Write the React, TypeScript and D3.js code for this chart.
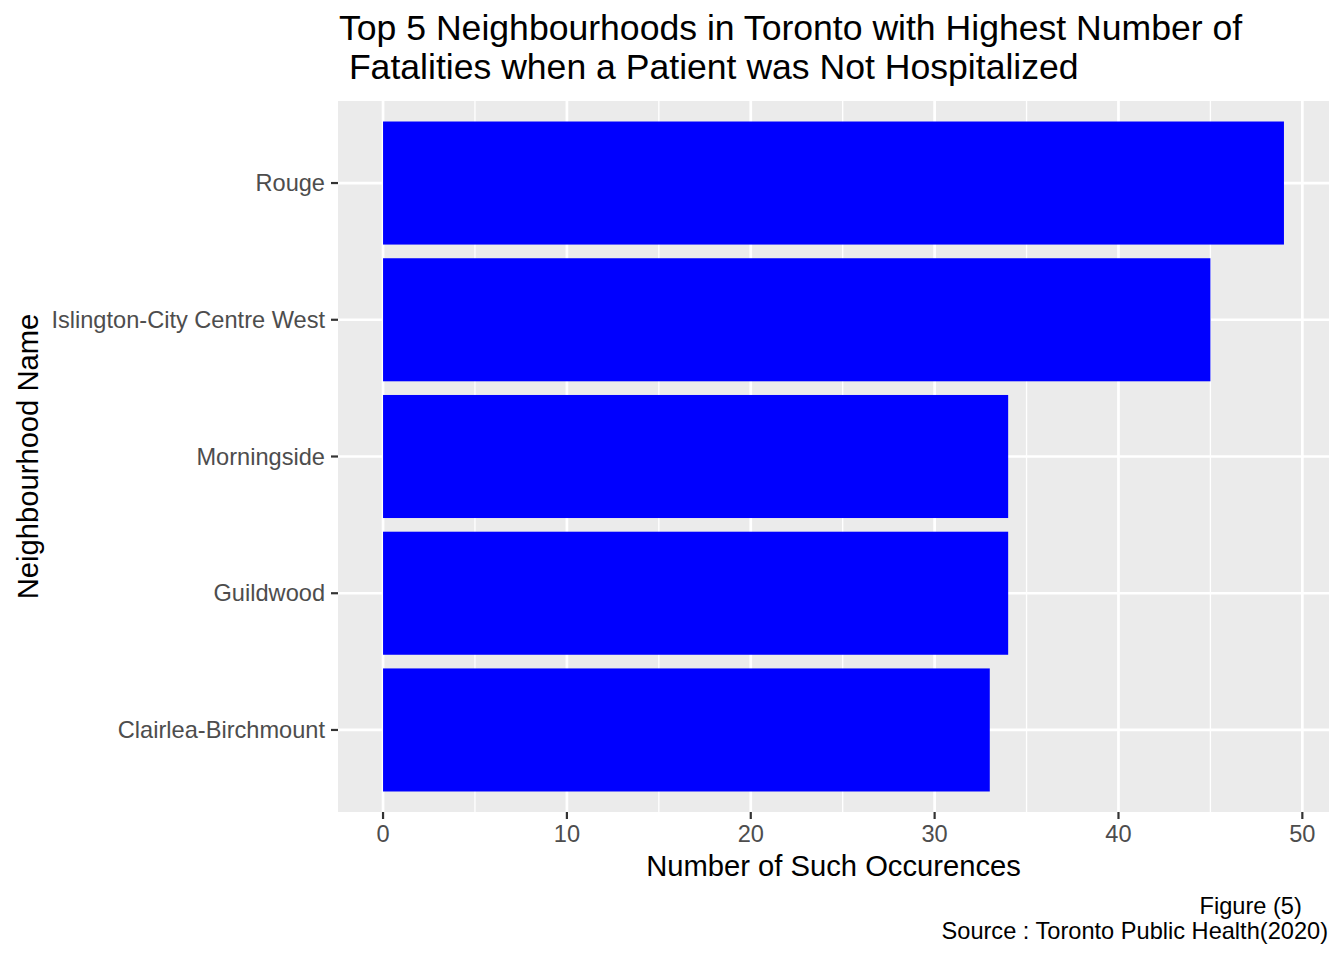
import * as d3 from 'd3';
import { useEffect, useRef } from 'react';

const WIDTH = 1344;
const HEIGHT = 960;

const neighbourhoods = ['Rouge', 'Islington-City Centre West', 'Morningside', 'Guildwood', 'Clairlea-Birchmount'];
const fatalities = [49, 45, 34, 34, 33];
const xTicks = [0, 10, 20, 30, 40, 50];
const xMinor = [5, 15, 25, 35, 45];
const titleLines = ['Top 5 Neighbourhoods in Toronto with Highest Number of', ' Fatalities when a Patient was Not Hospitalized'];
const captionLines = ['Figure (5)    ', 'Source : Toronto Public Health(2020)'];

const FONT = '"Liberation Sans", Arial, Helvetica, sans-serif';

export default function App() {
    const svgRef = useRef<SVGSVGElement | null>(null);

    useEffect(() => {
        if (!svgRef.current) {
            return;
        }
        const svg = d3.select(svgRef.current);
        svg.selectAll('*').remove();

        const panel = { left: 338, right: 1329, top: 101, bottom: 812 };

        const maxV = d3.max(fatalities) || 1;
        const pad = maxV * 0.05;
        const x = d3
            .scaleLinear()
            .domain([-pad, maxV + pad])
            .range([panel.left, panel.right]);

        // discrete axis: 0.6 units of expansion on each side, bar width 0.9
        const n = neighbourhoods.length;
        const yPos = d3
            .scaleLinear()
            .domain([0.4, n + 0.6])
            .range([panel.bottom, panel.top]);
        const yOf = (name: string) => yPos(n - neighbourhoods.indexOf(name));
        const barH = Math.abs(yPos(0.45) - yPos(-0.45));

        const rows = neighbourhoods.map((name, i) => ({ name, value: fatalities[i] }));

        svg.append('rect')
            .attr('width', WIDTH)
            .attr('height', HEIGHT)
            .attr('fill', '#ffffff');

        svg.append('rect')
            .attr('x', panel.left)
            .attr('y', panel.top)
            .attr('width', panel.right - panel.left)
            .attr('height', panel.bottom - panel.top)
            .attr('fill', '#ebebeb');

        // grid lines
        svg.append('g')
            .selectAll('line')
            .data(xMinor)
            .join('line')
            .attr('x1', (d) => x(d))
            .attr('x2', (d) => x(d))
            .attr('y1', panel.top)
            .attr('y2', panel.bottom)
            .attr('stroke', '#ffffff')
            .attr('stroke-width', 1.3);

        svg.append('g')
            .selectAll('line')
            .data(xTicks)
            .join('line')
            .attr('x1', (d) => x(d))
            .attr('x2', (d) => x(d))
            .attr('y1', panel.top)
            .attr('y2', panel.bottom)
            .attr('stroke', '#ffffff')
            .attr('stroke-width', 2.7);

        svg.append('g')
            .selectAll('line')
            .data(neighbourhoods)
            .join('line')
            .attr('x1', panel.left)
            .attr('x2', panel.right)
            .attr('y1', (d) => yOf(d))
            .attr('y2', (d) => yOf(d))
            .attr('stroke', '#ffffff')
            .attr('stroke-width', 2.7);

        // bars
        svg.append('g')
            .selectAll('rect')
            .data(rows)
            .join('rect')
            .attr('x', x(0))
            .attr('y', (d) => yOf(d.name) - barH / 2)
            .attr('width', (d) => x(d.value) - x(0))
            .attr('height', barH)
            .attr('fill', '#0000ff');

        // y ticks + labels
        const yAxis = svg.append('g');
        yAxis.selectAll('line')
            .data(neighbourhoods)
            .join('line')
            .attr('x1', panel.left - 7)
            .attr('x2', panel.left)
            .attr('y1', (d) => yOf(d))
            .attr('y2', (d) => yOf(d))
            .attr('stroke', '#333333')
            .attr('stroke-width', 2.2);
        yAxis.selectAll('text')
            .data(neighbourhoods)
            .join('text')
            .attr('x', panel.left - 13)
            .attr('y', (d) => yOf(d))
            .attr('dy', '0.35em')
            .attr('text-anchor', 'end')
            .attr('font-family', FONT)
            .attr('font-size', 23.6)
            .attr('fill', '#4d4d4d')
            .text((d) => d);

        // x ticks + labels
        const xAxis = svg.append('g');
        xAxis.selectAll('line')
            .data(xTicks)
            .join('line')
            .attr('x1', (d) => x(d))
            .attr('x2', (d) => x(d))
            .attr('y1', panel.bottom)
            .attr('y2', panel.bottom + 7)
            .attr('stroke', '#333333')
            .attr('stroke-width', 2.2);
        xAxis.selectAll('text')
            .data(xTicks)
            .join('text')
            .attr('x', (d) => x(d))
            .attr('y', 842)
            .attr('text-anchor', 'middle')
            .attr('font-family', FONT)
            .attr('font-size', 23.6)
            .attr('fill', '#4d4d4d')
            .text((d) => d);

        // axis titles
        svg.append('text')
            .attr('x', (panel.left + panel.right) / 2)
            .attr('y', 876)
            .attr('text-anchor', 'middle')
            .attr('font-family', FONT)
            .attr('font-size', 29.2)
            .attr('fill', '#000000')
            .text('Number of Such Occurences');

        svg.append('text')
            .attr('transform', `translate(38,${(panel.top + panel.bottom) / 2}) rotate(-90)`)
            .attr('text-anchor', 'middle')
            .attr('font-family', FONT)
            .attr('font-size', 29.2)
            .attr('fill', '#000000')
            .text('Neighbourhood Name');

        // title
        svg.append('g')
            .selectAll('text')
            .data(titleLines)
            .join('text')
            .attr('x', panel.left + 1)
            .attr('y', (_d, i) => 40 + i * 38.5)
            .attr('font-family', FONT)
            .attr('font-size', 35.6)
            .attr('fill', '#000000')
            .style('white-space', 'pre')
            .text((d) => d);

        // caption
        svg.append('g')
            .selectAll('text')
            .data(captionLines)
            .join('text')
            .attr('x', panel.right - 1)
            .attr('y', (_d, i) => 914 + i * 24.5)
            .attr('text-anchor', 'end')
            .attr('font-family', FONT)
            .attr('font-size', 23.6)
            .attr('fill', '#000000')
            .style('white-space', 'pre')
            .text((d) => d);
    }, []);

    return (
        <svg
            ref={svgRef}
            width={WIDTH}
            height={HEIGHT}
            style={{ position: 'absolute', left: 0, top: 0, display: 'block' }}
        />
    );
}
